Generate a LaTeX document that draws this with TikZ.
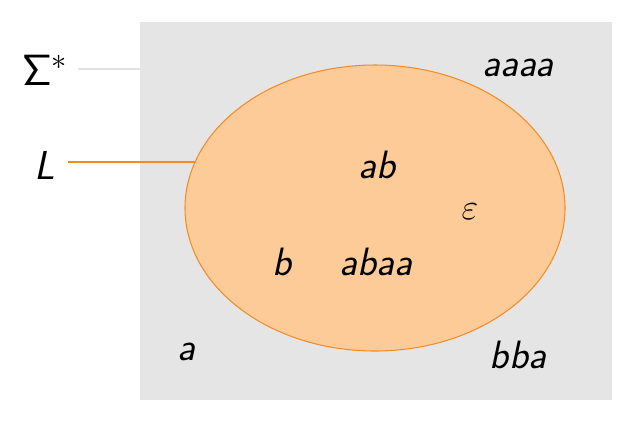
\documentclass[tikz,border=0pt]{standalone}
\definecolor{univers}{HTML}{E5E5E5}
\definecolor{langfill}{HTML}{FDCB98}
\definecolor{langline}{HTML}{F28C28}
\definecolor{pointer}{HTML}{E2E2E2}
\tikzset{
  mot/.style={font=\fontsize{22.5}{27}\selectfont\sffamily\itshape},
  etiq/.style={font=\fontsize{23}{27}\selectfont\sffamily},
}
\begin{document}
\begin{tikzpicture}[x=0.02cm,y=-0.02cm]
  \useasboundingbox (0,0) rectangle (638,424);
  \fill[univers] (140,22) rectangle (612,400);
  \draw[langline,line width=0.6pt,fill=langfill] (375,208) ellipse [x radius=190, y radius=143];
  % etiquettes
  \node[etiq] (sigma) at (45,70) {$\mathsf{\Sigma}^*$};
  \node[etiq,font=\fontsize{23}{27}\selectfont\sffamily\itshape] (lang) at (45,165) {L};
  \coordinate (pS) at (140,69);
  \coordinate (pL) at (195,162);
  \draw[pointer,line width=0.6pt] (78,69) -- (pS);
  \draw[langline,line width=0.6pt] (68,162) -- (pL);
  % mots
  \node[mot] (w1) at (518,68) {aaaa};
  \node[mot] (w2) at (377,165) {ab};
  \node[mot] (w3) at (470,212) {$\varepsilon$};
  \node[mot] (w4) at (282,262) {b};
  \node[mot] (w5) at (376,262) {abaa};
  \node[mot] (w6) at (186,352) {a};
  \node[mot] (w7) at (518,355) {bba};
\end{tikzpicture}
\end{document}
